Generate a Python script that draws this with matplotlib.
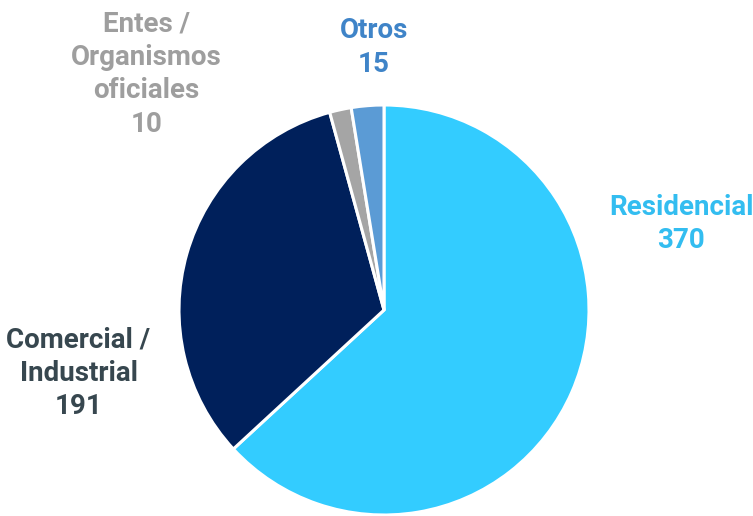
import matplotlib.pyplot as plt

# datos del gráfico
categorias = ['Residencial', 'Comercial /\nIndustrial', 'Entes /\nOrganismos\noficiales', 'Otros']
valores = [370, 191, 10, 15]
colores = ['#33ccff', '#00205b', '#a5a5a5', '#5b9bd5']
colores_texto = ['#33bdf0', '#37474f', '#9e9e9e', '#3f84c8']

# posiciones de las etiquetas (coordenadas del eje)
pos_etiquetas = [(1.45, 0.42), (-1.49, -0.31), (-1.16, 1.15), (-0.05, 1.28)]

plt.rcParams['font.family'] = ['Roboto', 'DejaVu Sans']

fig = plt.figure(figsize=(7.53, 5.16), dpi=100)
W, H = 753, 516
cx, cy, r = 384, 310, 205
ax = fig.add_axes([(cx - r) / W, (H - cy - r) / H, 2 * r / W, 2 * r / H])

ax.pie(valores, colors=colores, startangle=90, counterclock=False, radius=1,
       wedgeprops={'edgecolor': 'white', 'linewidth': 2.2})
ax.set_xlim(-1, 1)
ax.set_ylim(-1, 1)
ax.set_aspect('equal')
ax.axis('off')

for cat, val, col, (x, y) in zip(categorias, valores, colores_texto, pos_etiquetas):
    ax.text(x, y, f'{cat}\n{val}', color=col, fontsize=20, fontweight='bold',
            ha='center', va='center', linespacing=1.3, clip_on=False)

fig.savefig('out.png', dpi=100)
